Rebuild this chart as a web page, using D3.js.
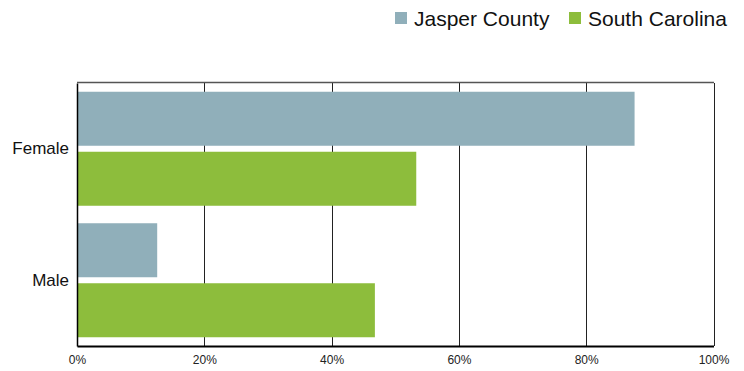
<!DOCTYPE html>
<html><head><meta charset="utf-8">
<script src="https://cdn.jsdelivr.net/npm/d3@7"></script>
<style>
body{margin:0;background:#fff;font-family:"Liberation Sans",Arial,sans-serif;}
</style></head>
<body><svg id="c" width="744" height="371"></svg>
<script>
const categories = ["Female", "Male"];
const seriesNames = ["Jasper County", "South Carolina"];
const jasperValues = [87.6, 12.6];
const scValues = [53.3, 46.8];
const tickValues = [0, 20, 40, 60, 80, 100];
const colors = ["#90AFBA", "#8DBD3C"];

const svg = d3.select("#c");
const m = {l: 77, r: 30, t: 83, b: 25};
const x = d3.scaleLinear().domain([0, 100]).range([m.l, 713.5]);
const y0 = d3.scaleBand().domain(categories).range([m.t, 346]).paddingInner(0.133).paddingOuter(0.0665);
const y1 = d3.scaleBand().domain(seriesNames).range([0, y0.bandwidth()]).paddingInner(0.1);
const color = d3.scaleOrdinal().domain(seriesNames).range(colors);

const data = categories.map((c, i) => ({cat: c, vals: [
  {s: seriesNames[0], v: jasperValues[i]},
  {s: seriesNames[1], v: scValues[i]}]}));

// gridlines (behind bars)
svg.append("g").selectAll("line").data(tickValues.slice(1))
  .join("line")
  .attr("x1", d => Math.round(x(d)) + 0.5).attr("x2", d => Math.round(x(d)) + 0.5)
  .attr("y1", m.t).attr("y2", 346)
  .attr("stroke", "#222").attr("stroke-width", 1);
// top border
svg.append("line").attr("x1", m.l).attr("x2", 714).attr("y1", m.t - 0.5).attr("y2", m.t - 0.5)
  .attr("stroke", "#555").attr("stroke-width", 1.5);

// bars
const g = svg.append("g");
g.selectAll("g.cat").data(data).join("g")
  .attr("transform", d => `translate(0,${y0(d.cat)})`)
  .selectAll("rect").data(d => d.vals).join("rect")
  .attr("x", x(0)).attr("y", d => y1(d.s))
  .attr("width", d => x(d.v) - x(0)).attr("height", y1.bandwidth())
  .attr("fill", d => color(d.s));

// x axis
const xa = svg.append("g").attr("transform", "translate(0,346)")
  .call(d3.axisBottom(x).tickValues(tickValues).tickFormat(d => d + "%").tickSize(0).tickPadding(9));
xa.select(".domain").attr("stroke", "#000").attr("stroke-width", 2);
xa.selectAll("text").attr("font-size", 12).attr("font-family", "Liberation Sans, Arial, sans-serif").attr("fill", "#222");

// y axis
const ya = svg.append("g").attr("transform", `translate(${m.l},0)`)
  .call(d3.axisLeft(y0).tickSize(0).tickPadding(8));
ya.select(".domain").attr("stroke", "#000").attr("stroke-width", 1.5);
ya.selectAll("text").attr("font-size", 17).attr("font-family", "Liberation Sans, Arial, sans-serif").attr("fill", "#111");

// legend
const leg = svg.append("g");
const legX = [395, 569];
seriesNames.forEach((s, i) => {
  leg.append("rect").attr("x", legX[i]).attr("y", 12).attr("width", 12).attr("height", 12).attr("fill", colors[i]);
  leg.append("text").attr("x", legX[i] + 19).attr("y", 26).text(s)
    .attr("font-size", 21).attr("fill", "#111").attr("font-family", "Liberation Sans, Arial, sans-serif");
});
</script></body></html>
